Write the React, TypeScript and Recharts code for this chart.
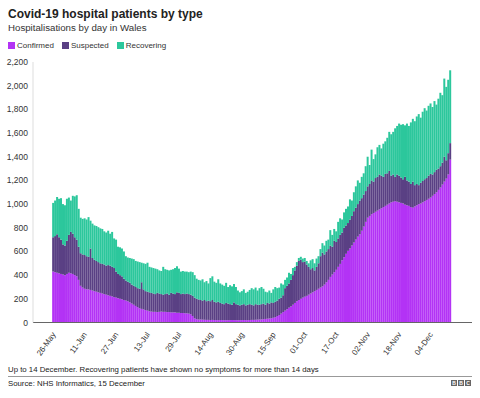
import React from "react";
import { BarChart, Bar, XAxis, YAxis } from "recharts";

// daily patients in hospital, 26 May - 14 Dec
const confirmed = [
  430, 425, 420, 415, 410, 405, 400, 410, 420, 415, 410, 400, 390,
  360, 310, 295, 285, 280, 280, 275, 270, 265, 260, 255, 250, 245, 240, 235, 230,
  225, 220, 215, 210, 205, 200, 195, 190, 185, 180, 170, 160, 150, 140, 130, 120, 115, 110, 105, 100, 95, 92, 90, 90, 88, 90, 92, 90,
  90, 88, 88, 85, 85, 85, 82, 82, 80, 80, 78, 78, 75, 70, 55, 35,
  28, 25, 25, 24, 23, 22, 22, 21, 22, 21, 20, 20, 21, 20, 20, 19, 20, 20, 21, 20,
  20, 19, 20, 20, 21, 20, 20, 21, 22, 22, 23, 24, 25, 26, 28, 30, 32, 34, 36, 40,
  45, 55, 63, 75, 88, 100, 112, 125, 135, 150, 165, 180, 190, 200, 210, 218, 225, 235, 245, 255, 265, 275, 285,
  295, 305, 320, 340, 360, 385, 405, 425, 445, 470, 495, 525, 550, 580, 605, 625, 650, 675, 700, 725, 745, 775, 810, 850, 885,
  900, 915, 925, 935, 945, 955, 965, 975, 985, 995, 1005, 1015, 1020, 1025, 1020, 1015, 1010, 1005, 995, 990, 985,
  975, 970, 980, 990, 1000, 1005, 1015, 1025, 1035, 1045, 1055, 1070, 1085, 1100, 1120, 1140, 1165, 1190, 1215, 1250, 1375,
];

const suspected = [
  290, 305, 325, 305, 290, 255, 250, 280, 320, 350, 340, 320, 310,
  280, 275, 280, 285, 280, 275, 350, 275, 265, 260, 255, 250, 250, 250, 245, 255,
  255, 250, 245, 220, 205, 200, 195, 180, 170, 165, 165, 160, 160, 160, 160, 165, 225, 170, 160, 160, 160, 158, 155, 150, 162, 155, 148, 145,
  150, 157, 147, 165, 160, 155, 173, 168, 160, 165, 162, 167, 165, 165, 170, 175,
  172, 170, 165, 161, 167, 158, 163, 159, 168, 154, 150, 155, 144, 140, 135, 146, 140, 135, 129, 150,
  135, 131, 125, 130, 134, 125, 130, 134, 128, 123, 132, 126, 125, 129, 132, 120, 133, 126, 134, 125,
  130, 130, 137, 135, 142, 190, 198, 205, 225, 250, 275, 300, 330, 330, 300, 297, 265, 235, 205, 205, 175, 195, 215,
  265, 285, 255, 260, 260, 265, 235, 265, 235, 240, 245, 235, 250, 240, 235, 245, 250, 265, 270, 275, 285, 275, 270, 260, 265,
  270, 285, 265, 285, 285, 295, 275, 255, 270, 265, 275, 225, 230, 205, 230, 225, 215, 205, 235, 210, 205,
  195, 220, 180, 180, 160, 175, 180, 185, 185, 195, 200, 180, 185, 190, 180, 180, 185, 210, 155, 180, 140,
];

const recovering = [
  290, 300, 315, 325, 350, 340, 340, 355, 315, 265, 320, 345, 375,
  320, 300, 300, 310, 310, 335, 235, 290, 290, 295, 295, 295, 295, 280, 280, 290,
  270, 295, 250, 270, 230, 235, 235, 230, 205, 205, 210, 220, 225, 220, 225, 225, 165, 220, 230, 245, 215, 215, 215, 215, 200, 195, 195, 235,
  210, 200, 205, 195, 205, 220, 220, 205, 190, 190, 190, 185, 185, 195, 200, 190,
  170, 165, 165, 180, 150, 170, 145, 195, 200, 170, 165, 190, 165, 160, 155, 170, 140, 160, 155, 155,
  145, 120, 110, 115, 125, 105, 110, 120, 140, 135, 140, 120, 140, 145, 125, 110, 90, 110, 80, 115,
  125, 105, 95, 120, 90, 70, 70, 90, 50, 60, 30, 30, 25, 25, 30, 30, 30, 30, 75, 75, 60, 70, 60,
  60, 80, 75, 90, 80, 130, 100, 100, 90, 140, 140, 110, 130, 140, 140, 170, 130, 160, 180, 200, 150, 180, 180, 210, 250,
  160, 260, 190, 200, 250, 250, 230, 280, 275, 300, 330, 350, 360, 410, 410, 440, 445, 465, 435, 480, 470,
  520, 530, 540, 570, 600, 550, 585, 600, 570, 590, 595, 570, 600, 550, 590, 620, 570, 660, 620, 620, 615,
];

const yTicks = [0, 200, 400, 600, 800, 1000, 1200, 1400, 1600, 1800, 2000, 2200];
const monthNames = ["Jan", "Feb", "Mar", "Apr", "May", "Jun", "Jul", "Aug", "Sep", "Oct", "Nov", "Dec"];

const dayLabel = (i: number) => {
  const d = new Date(2020, 4, 26 + i);
  return `${String(d.getDate()).padStart(2, "0")}-${monthNames[d.getMonth()]}`;
};

const data = confirmed.map((c, i) => ({
  day: dayLabel(i),
  confirmed: c,
  suspected: suspected[i],
  recovering: recovering[i],
}));

const COLORS = {
  confirmed: "#b333f5",
  suspected: "#5a4084",
  recovering: "#2cc79c",
};

const FONT = "'Liberation Sans', Arial, Helvetica, sans-serif";

const DateTick = ({ x, y, payload }: any) => (
  <g transform={`translate(${x + 3},${y + 4})`}>
    <text textAnchor="end" transform="rotate(-55)" fontSize={8} fill="#333" fontFamily={FONT}>
      {payload.value}
    </text>
  </g>
);

const LegendItem = ({ color, label }: { color: string; label: string }) => (
  <span style={{ display: "inline-flex", alignItems: "center", marginRight: 8 }}>
    <span style={{ width: 7, height: 7, background: color, display: "inline-block", marginRight: 2 }} />
    <span style={{ fontSize: 8, color: "#333" }}>{label}</span>
  </span>
);

const App: React.FC = () => {
  return (
    <div
      style={{
        position: "absolute",
        left: 0,
        top: 0,
        width: 480,
        height: 398,
        background: "#fff",
        fontFamily: FONT,
        overflow: "hidden",
      }}
    >
      <div style={{ position: "absolute", left: 8, top: 7, fontSize: 12, fontWeight: "bold", color: "#222" }}>
        Covid-19 hospital patients by type
      </div>
      <div style={{ position: "absolute", left: 8, top: 22, fontSize: 9.7, color: "#333" }}>
        Hospitalisations by day in Wales
      </div>
      <div style={{ position: "absolute", left: 8, top: 41, display: "flex" }}>
        <LegendItem color={COLORS.confirmed} label="Confirmed" />
        <LegendItem color={COLORS.suspected} label="Suspected" />
        <LegendItem color={COLORS.recovering} label="Recovering" />
      </div>

      <div style={{ position: "absolute", left: 0, top: 0 }}>
        <BarChart
          width={480}
          height={360}
          data={data}
          margin={{ top: 62, right: 8, left: 8, bottom: 7.5 }}
          barCategoryGap="8%"
        >
          <XAxis
            dataKey="day"
            interval={15}
            tick={<DateTick />}
            tickLine={false}
            axisLine={{ stroke: "#666" }}
            height={30}
            padding={{ left: 19, right: 21 }}
          />
          <YAxis
            domain={[0, 2200]}
            ticks={yTicks}
            tickFormatter={(v: number) => v.toLocaleString("en-GB")}
            tick={{ fontSize: 8.5, fill: "#333", fontFamily: FONT }}
            tickLine={false}
            tickSize={3}
            tickMargin={2}
            axisLine={{ stroke: "#ddd" }}
            width={25}
          />
          <Bar dataKey="confirmed" stackId="a" fill={COLORS.confirmed} isAnimationActive={false} />
          <Bar dataKey="suspected" stackId="a" fill={COLORS.suspected} isAnimationActive={false} />
          <Bar dataKey="recovering" stackId="a" fill={COLORS.recovering} isAnimationActive={false} />
        </BarChart>
      </div>

      <div style={{ position: "absolute", left: 8, top: 365, fontSize: 7.8, color: "#222" }}>
        Up to 14 December. Recovering patients have shown no symptoms for more than 14 days
      </div>
      <div style={{ position: "absolute", left: 8, top: 376, width: 464, borderTop: "1px solid #999" }} />
      <div style={{ position: "absolute", left: 8, top: 379, fontSize: 7.8, color: "#222" }}>
        Source: NHS Informatics, 15 December
      </div>
      <div style={{ position: "absolute", left: 451, top: 380, display: "flex", gap: 1 }}>
        {["B", "B", "C"].map((l, i) => (
          <span
            key={i}
            style={{
              width: 6,
              height: 6,
              background: "#666",
              color: "#fff",
              fontSize: 5,
              fontWeight: "bold",
              lineHeight: "6px",
              textAlign: "center",
            }}
          >
            {l}
          </span>
        ))}
      </div>
    </div>
  );
};

export default App;
